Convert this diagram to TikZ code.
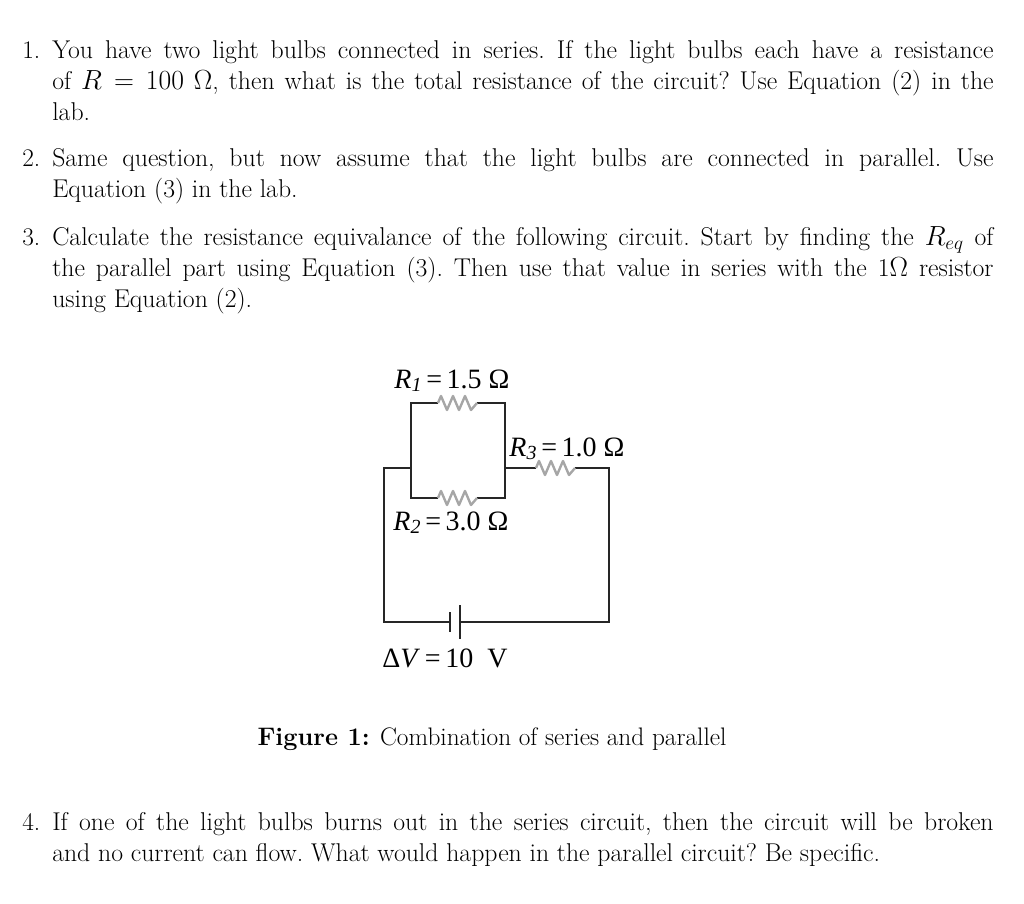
\documentclass[tikz,border=0pt]{standalone}
\usepackage{fontspec}
\newfontfamily\tms{Liberation Serif}
\tikzset{
  px/.style={x=0.75pt,y=-0.75pt},
  wire/.style={line width=1.3pt,black!85},
  res/.style={line width=1.8pt,gray!70},
  item/.style={anchor=base west,inner sep=0pt},
  lbl/.style={inner sep=0pt,font=\tms\fontsize{21}{23}\selectfont}
}
\newcommand{\itemtext}[1]{\parbox[t]{706pt}{\fontsize{19.3}{23.25}\selectfont\frenchspacing #1}}
\newcommand{\rsub}[1]{\textit{R}\raisebox{-0.3ex}{\fontsize{15}{15}\selectfont\textit{#1}}}
\begin{document}
\begin{tikzpicture}[px]
\useasboundingbox (0,0) rectangle (1024,903);
\fontsize{19}{23.25}\selectfont
\node[item] (n1) at (22,58) {1.};
\node[item] (t1) at (52,58) {\itemtext{You have two light bulbs connected in series. If the light bulbs each have a resistance\linebreak of $R=100\ \Omega$, then what is the total resistance of the circuit? Use Equation (2) in the\linebreak lab.}};
\node[item] (n2) at (22,166) {2.};
\node[item] (t2) at (52,166) {\itemtext{Same question, but now assume that the light bulbs are connected in parallel. Use\linebreak Equation (3) in the lab.}};
\node[item] (n3) at (22,245) {3.};
\node[item] (t3) at (52,245) {\itemtext{Calculate the resistance equivalance of the following circuit. Start by finding the $R_{eq}$ of\linebreak the parallel part using Equation (3). Then use that value in series with the 1$\Omega$ resistor\linebreak using Equation (2).}};
\node[item] (n4) at (22,830) {4.};
\node[item] (t4) at (52,830) {\itemtext{If one of the light bulbs burns out in the series circuit, then the circuit will be broken\linebreak and no current can flow. What would happen in the parallel circuit? Be specific.}};
\node[inner sep=0pt,anchor=base] (cap) at (492,745) {\textbf{Figure 1:} Combination of series and parallel};
% circuit
\coordinate (TL) at (411,403); \coordinate (TR) at (505,403);
\coordinate (BL) at (411,498); \coordinate (BR) at (505,498);
\coordinate (ML) at (411,468); \coordinate (MR) at (505,468);
\coordinate (OL) at (384,468); \coordinate (OR) at (609,468);
\coordinate (GL) at (384,622); \coordinate (GR) at (609,622);
\coordinate (r1a) at (438,403); \coordinate (r1b) at (477,403);
\coordinate (r2a) at (438,498); \coordinate (r2b) at (477,498);
\coordinate (r3a) at (536,468); \coordinate (r3b) at (575,468);
\coordinate (ba) at (450,622); \coordinate (bb) at (460,622);
\draw[wire] (r1a) -- (TL) -- (BL) -- (r2a);
\draw[wire] (r1b) -- (TR) -- (BR) -- (r2b);
\draw[wire] (ML) -- (OL) -- (GL) -- (ba);
\draw[wire] (MR) -- (r3a);
\draw[wire] (r3b) -- (OR) -- (GR) -- (bb);
\foreach \a in {r1a,r2a,r3a}{
  \draw[res,line join=round] (\a) -- ++(3,-7) -- ++(6,14) -- ++(6,-14) -- ++(6,14) -- ++(6,-14) -- ++(6,14) -- ++(6,-7);
}
\draw[wire,line width=1.6pt] (450,612) -- (450,632);
\draw[wire,line width=1.6pt] (460,605) -- (460,639);
\node[lbl,anchor=base] (l1) at (452,388) {\rsub{1}\,=\,1.5 Ω};
\node[lbl,anchor=base] (l2) at (451,530) {\rsub{2}\,=\,3.0 Ω};
\node[lbl,anchor=base] (l3) at (567,456) {\rsub{3}\,=\,1.0 Ω};
\node[lbl,anchor=base] (lv) at (445,667) {Δ\textit{V}\,=\,10\ \ V};
\end{tikzpicture}
\end{document}
